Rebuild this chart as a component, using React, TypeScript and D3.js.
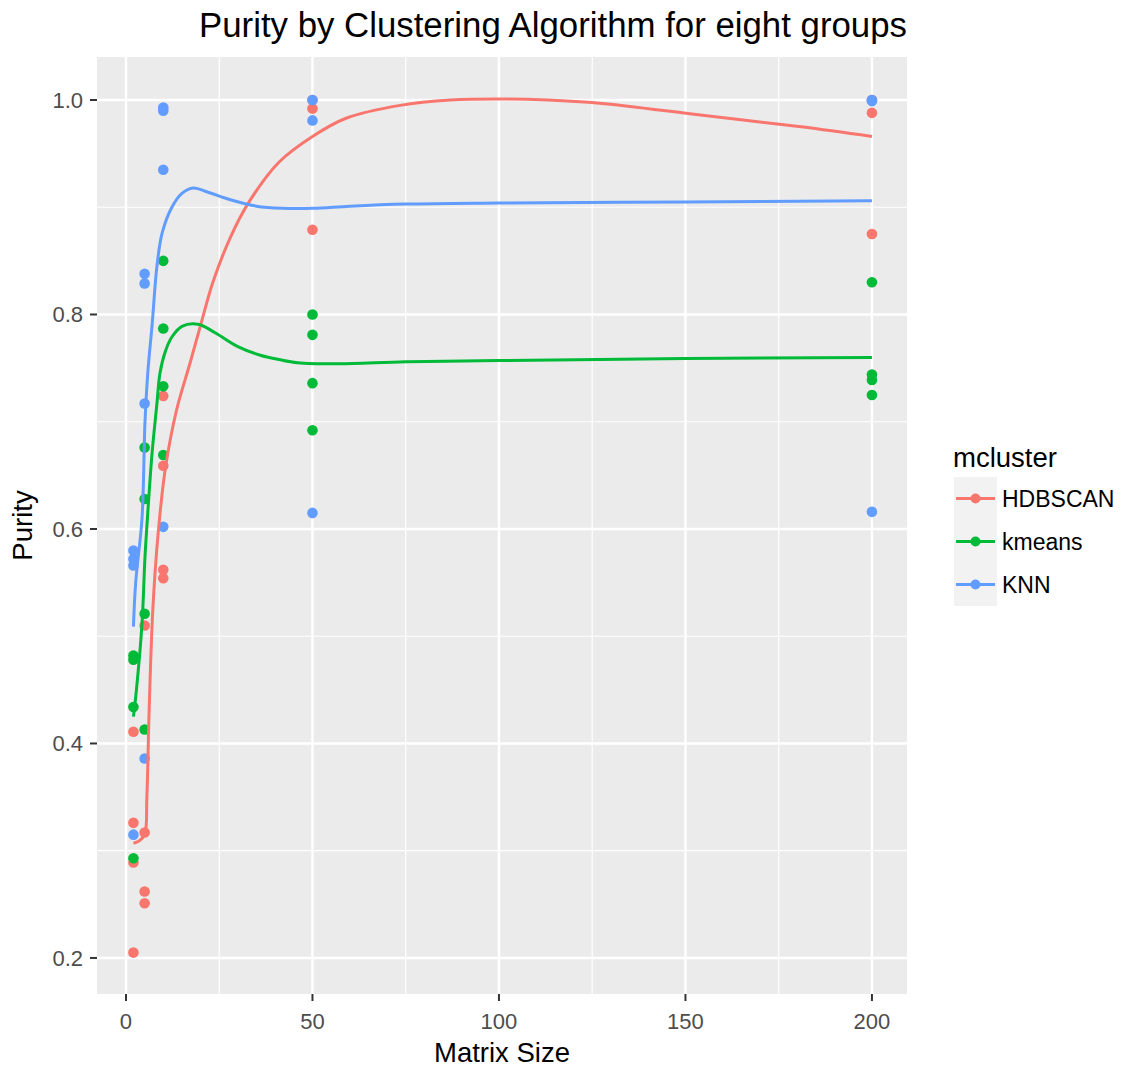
import React from "react";
import * as d3 from "d3";

// Purity measurements per matrix size, one array of [size, purity] per algorithm
const HDBSCAN_POINTS: [number, number][] = [
  [2, 0.411], [2, 0.326], [2, 0.289], [2, 0.205],
  [5, 0.51], [5, 0.317], [5, 0.262], [5, 0.251],
  [10, 0.724], [10, 0.659], [10, 0.562], [10, 0.554],
  [50, 1.0], [50, 0.992], [50, 0.879],
  [200, 1.0], [200, 0.988], [200, 0.875],
];
const KMEANS_POINTS: [number, number][] = [
  [2, 0.482], [2, 0.478], [2, 0.434], [2, 0.293],
  [5, 0.676], [5, 0.628], [5, 0.521], [5, 0.413],
  [10, 0.85], [10, 0.787], [10, 0.733], [10, 0.669],
  [50, 0.8], [50, 0.781], [50, 0.736], [50, 0.692],
  [200, 0.83], [200, 0.744], [200, 0.739], [200, 0.725],
];
const KNN_POINTS: [number, number][] = [
  [2, 0.58], [2, 0.572], [2, 0.566], [2, 0.315],
  [5, 0.838], [5, 0.829], [5, 0.717], [5, 0.386],
  [10, 0.993], [10, 0.99], [10, 0.935], [10, 0.602],
  [50, 1.0], [50, 0.981], [50, 0.615],
  [200, 1.0], [200, 0.999], [200, 0.616],
];

// Smoothed (loess) trend per algorithm
const HDBSCAN_SMOOTH: [number, number][] = [
  [2, 0.307], [3.5, 0.309], [5, 0.315], [5.6, 0.35], [6.2, 0.43], [7.2, 0.525],
  [8.6, 0.595], [10.5, 0.655], [13.5, 0.71], [17.2, 0.755], [20.4, 0.795], [23.3, 0.83],
  [28, 0.872], [33, 0.905], [41, 0.942], [50, 0.966], [59, 0.983], [73.5, 0.995],
  [87, 1.0], [100, 1.001], [113, 1.0], [127, 0.997], [154, 0.986], [181, 0.975], [200, 0.966],
];
const KMEANS_SMOOTH: [number, number][] = [
  [2, 0.425], [2.8, 0.45], [4.3, 0.512], [5.1, 0.574], [5.9, 0.618], [7, 0.671],
  [8.3, 0.717], [9.1, 0.745], [10.5, 0.765], [12.3, 0.779], [15, 0.789], [19.3, 0.791],
  [23.9, 0.783], [30, 0.77], [36, 0.762], [41, 0.758], [46, 0.755], [57, 0.754],
  [75, 0.756], [100, 0.757], [150, 0.759], [200, 0.76],
];
const KNN_SMOOTH: [number, number][] = [
  [2, 0.509], [2.6, 0.55], [4.3, 0.61], [5.1, 0.7], [5.9, 0.748], [7, 0.79],
  [8.3, 0.845], [9.7, 0.876], [12.3, 0.9], [15, 0.913], [18, 0.918], [22, 0.914],
  [28, 0.907], [35, 0.901], [42, 0.899], [50, 0.899], [60, 0.901], [75, 0.903],
  [100, 0.904], [150, 0.905], [200, 0.906],
];

const GROUPS = ["HDBSCAN", "kmeans", "KNN"];
const COLORS = ["#F8766D", "#00BA38", "#619CFF"];
const X_TICKS = [0, 50, 100, 150, 200];
const X_MINOR = [25, 75, 125, 175];
const Y_TICKS = [0.2, 0.4, 0.6, 0.8, 1.0];
const Y_MINOR = [0.3, 0.5, 0.7, 0.9];

const FONT = "'Liberation Sans', Arial, sans-serif";

export default function App() {
  const panel = { left: 97, right: 907, top: 57, bottom: 994 };
  const x = d3.scaleLinear().domain([-7.77, 209.4]).range([panel.left, panel.right]);
  const y = d3.scaleLinear().domain([0.1664, 1.0401]).range([panel.bottom, panel.top]);

  const line = d3
    .line<[number, number]>()
    .x((d) => x(d[0]))
    .y((d) => y(d[1]))
    .curve(d3.curveCatmullRom.alpha(0.5));

  const pointSets = [HDBSCAN_POINTS, KMEANS_POINTS, KNN_POINTS];
  const smoothSets = [HDBSCAN_SMOOTH, KMEANS_SMOOTH, KNN_SMOOTH];

  const legendX = 954;
  const legendTop = 477;
  const keySize = 43;

  return (
    <svg width={1125} height={1074} style={{ display: "block", margin: "-8px" }} fontFamily={FONT}>
      <rect x={0} y={0} width={1125} height={1074} fill="#ffffff" />
      {/* title */}
      <text x={553} y={37} fontSize={34.8} textAnchor="middle" fill="#000">
        Purity by Clustering Algorithm for eight groups
      </text>

      {/* panel */}
      <rect x={panel.left} y={panel.top} width={panel.right - panel.left} height={panel.bottom - panel.top} fill="#EBEBEB" />
      {Y_MINOR.map((t) => (
        <line key={"ym" + t} x1={panel.left} x2={panel.right} y1={y(t)} y2={y(t)} stroke="#fff" strokeWidth={1.2} />
      ))}
      {X_MINOR.map((t) => (
        <line key={"xm" + t} y1={panel.top} y2={panel.bottom} x1={x(t)} x2={x(t)} stroke="#fff" strokeWidth={1.2} />
      ))}
      {Y_TICKS.map((t) => (
        <line key={"yg" + t} x1={panel.left} x2={panel.right} y1={y(t)} y2={y(t)} stroke="#fff" strokeWidth={2.4} />
      ))}
      {X_TICKS.map((t) => (
        <line key={"xg" + t} y1={panel.top} y2={panel.bottom} x1={x(t)} x2={x(t)} stroke="#fff" strokeWidth={2.4} />
      ))}

      {/* points */}
      {pointSets.map((pts, gi) =>
        pts.map((d, i) => (
          <circle key={gi + "-" + i} cx={x(d[0])} cy={y(d[1])} r={5.3} fill={COLORS[gi]} />
        ))
      )}

      {/* smooth lines */}
      {smoothSets.map((pts, gi) => (
        <path key={"s" + gi} d={line(pts) || ""} fill="none" stroke={COLORS[gi]} strokeWidth={3} />
      ))}

      {/* axes */}
      {X_TICKS.map((t) => (
        <g key={"xt" + t}>
          <line x1={x(t)} x2={x(t)} y1={panel.bottom} y2={panel.bottom + 7} stroke="#333" strokeWidth={2} />
          <text x={x(t)} y={1029} fontSize={22} textAnchor="middle" fill="#4D4D4D">
            {t}
          </text>
        </g>
      ))}
      {Y_TICKS.map((t) => (
        <g key={"yt" + t}>
          <line x1={panel.left - 7} x2={panel.left} y1={y(t)} y2={y(t)} stroke="#333" strokeWidth={2} />
          <text x={83} y={y(t) + 8} fontSize={22} textAnchor="end" fill="#4D4D4D">
            {t.toFixed(1)}
          </text>
        </g>
      ))}
      <text x={(panel.left + panel.right) / 2} y={1062} fontSize={27.5} textAnchor="middle" fill="#000">
        Matrix Size
      </text>
      <text
        transform={`translate(32, ${(panel.top + panel.bottom) / 2}) rotate(-90)`}
        fontSize={27.5}
        textAnchor="middle"
        fill="#000"
      >
        Purity
      </text>

      {/* legend */}
      <text x={legendX - 1} y={467} fontSize={27.5} fill="#000">
        mcluster
      </text>
      {GROUPS.map((g, i) => {
        const top = legendTop + i * keySize;
        const cy = top + keySize / 2;
        return (
          <g key={"lg" + g}>
            <rect x={legendX} y={top} width={keySize} height={keySize} fill="#F2F2F2" />
            <line x1={legendX + 2} x2={legendX + keySize - 2} y1={cy} y2={cy} stroke={COLORS[i]} strokeWidth={3} />
            <circle cx={legendX + keySize / 2} cy={cy} r={5} fill={COLORS[i]} />
            <text x={legendX + keySize + 5} y={cy + 8} fontSize={23} fill="#000">
              {g}
            </text>
          </g>
        );
      })}
    </svg>
  );
}
